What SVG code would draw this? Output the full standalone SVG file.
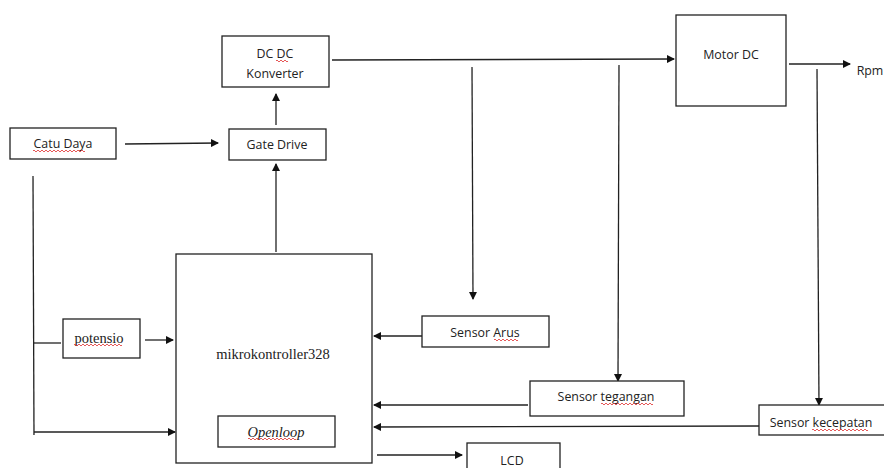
<svg xmlns="http://www.w3.org/2000/svg" width="884" height="468" viewBox="0 0 884 468">
<style>
.box{fill:#fff;stroke:#222;stroke-width:1.3}
.ln{fill:none;stroke:#222;stroke-width:1.3}
.t{font-family:"Open Sans","Liberation Sans",sans-serif;font-size:12.4px;fill:#222;text-anchor:middle}
.s{font-family:"Liberation Serif",serif;font-size:14.5px;fill:#222;text-anchor:middle}
.sq{fill:none;stroke:#e03030;stroke-width:0.8}
</style>
<defs>
<marker id="ah" markerWidth="8" markerHeight="8" refX="7" refY="4" orient="auto" markerUnits="userSpaceOnUse">
<path d="M0,0 L8,4 L0,8 Z" fill="#111"/>
</marker>
</defs>
<rect width="884" height="468" fill="#fff"/>
<g id="connectors">
<path class="ln" d="M125,144 L218,143" marker-end="url(#ah)"/>
<path class="ln" d="M276,125 L276,94" marker-end="url(#ah)"/>
<path class="ln" d="M276,252 L276,164" marker-end="url(#ah)"/>
<path class="ln" d="M332,60 L674,59" marker-end="url(#ah)"/>
<path class="ln" d="M789,64 L850,64" marker-end="url(#ah)"/>
<path class="ln" d="M472,67 L473,299" marker-end="url(#ah)"/>
<path class="ln" d="M619,65 L618,381" marker-end="url(#ah)"/>
<path class="ln" d="M817,69 L819,405" marker-end="url(#ah)"/>
<path class="ln" d="M422,336 L374,336" marker-end="url(#ah)"/>
<path class="ln" d="M528,405 L374,405" marker-end="url(#ah)"/>
<path class="ln" d="M759,426 L374,427" marker-end="url(#ah)"/>
<path class="ln" d="M377,455 L462,455" marker-end="url(#ah)"/>
<path class="ln" d="M145,340 L173,340" marker-end="url(#ah)"/>
<path class="ln" d="M33,176 L34,435"/>
<path class="ln" d="M34,343 L61,343"/>
<path class="ln" d="M34,432 L175,432" marker-end="url(#ah)"/>
</g>
<g id="dcdc">
<rect class="box" x="222" y="36" width="107" height="51"/>
<text class="t" x="275" y="58">DC DC</text>
<text class="t" x="275" y="78">Konverter</text>
<path class="sq" d="M276,61 q1,-2 2,0 q1,2 2,0 q1,-2 2,0 q1,2 2,0 q1,-2 2,0 q1,2 2,0"/>
</g>
<g id="gatedrive">
<rect class="box" x="229" y="129" width="97" height="31"/>
<text class="t" x="277" y="149">Gate Drive</text>
</g>
<g id="catudaya">
<rect class="box" x="10" y="128" width="106" height="31"/>
<text class="t" x="63" y="148">Catu Daya</text>
<path class="sq" d="M33,151 q1,-2 2,0 q1,2 2,0 q1,-2 2,0 q1,2 2,0 q1,-2 2,0 q1,2 2,0 q1,-2 2,0 q1,2 2,0 q1,-2 2,0 q1,2 2,0 q1,-2 2,0 q1,2 2,0 q1,-2 2,0 q1,2 2,0 q1,-2 2,0 q1,2 2,0 q1,-2 2,0 q1,2 2,0 q1,-2 2,0 q1,2 2,0 q1,-2 2,0 q1,2 2,0 q1,-2 2,0 q1,2 2,0 q1,-2 2,0 q1,2 2,0"/>
</g>
<g id="motordc">
<rect class="box" x="676" y="15" width="110" height="91"/>
<text class="t" x="731" y="59">Motor DC</text>
</g>
<g id="rpm">
<text class="t" x="870" y="75">Rpm</text>
</g>
<g id="mikrokontroller">
<rect class="box" x="176" y="254" width="196" height="209"/>
<text class="s" x="273" y="359">mikrokontroller328</text>
</g>
<g id="openloop">
<rect class="box" x="218" y="416" width="117" height="31"/>
<text class="s" x="276" y="437" font-style="italic">Openloop</text>
<path class="sq" d="M248,439 q1,-2 2,0 q1,2 2,0 q1,-2 2,0 q1,2 2,0 q1,-2 2,0 q1,2 2,0 q1,-2 2,0 q1,2 2,0 q1,-2 2,0 q1,2 2,0 q1,-2 2,0 q1,2 2,0 q1,-2 2,0 q1,2 2,0 q1,-2 2,0 q1,2 2,0 q1,-2 2,0 q1,2 2,0 q1,-2 2,0 q1,2 2,0 q1,-2 2,0 q1,2 2,0 q1,-2 2,0 q1,2 2,0"/>
</g>
<g id="potensio">
<rect class="box" x="63" y="319" width="77" height="39"/>
<text class="s" x="99" y="343">potensio</text>
<path class="sq" d="M74,345 q1,-2 2,0 q1,2 2,0 q1,-2 2,0 q1,2 2,0 q1,-2 2,0 q1,2 2,0 q1,-2 2,0 q1,2 2,0 q1,-2 2,0 q1,2 2,0 q1,-2 2,0 q1,2 2,0 q1,-2 2,0 q1,2 2,0 q1,-2 2,0 q1,2 2,0 q1,-2 2,0 q1,2 2,0 q1,-2 2,0 q1,2 2,0 q1,-2 2,0 q1,2 2,0 q1,-2 2,0 q1,2 2,0"/>
</g>
<g id="sensorarus">
<rect class="box" x="422" y="316" width="127" height="31"/>
<text class="t" x="485" y="337">Sensor Arus</text>
<path class="sq" d="M494,340 q1,-2 2,0 q1,2 2,0 q1,-2 2,0 q1,2 2,0 q1,-2 2,0 q1,2 2,0 q1,-2 2,0 q1,2 2,0 q1,-2 2,0 q1,2 2,0 q1,-2 2,0 q1,2 2,0"/>
</g>
<g id="sensortegangan">
<rect class="box" x="530" y="381" width="154" height="35"/>
<text class="t" x="606" y="401">Sensor tegangan</text>
<path class="sq" d="M601,404 q1,-2 2,0 q1,2 2,0 q1,-2 2,0 q1,2 2,0 q1,-2 2,0 q1,2 2,0 q1,-2 2,0 q1,2 2,0 q1,-2 2,0 q1,2 2,0 q1,-2 2,0 q1,2 2,0 q1,-2 2,0 q1,2 2,0 q1,-2 2,0 q1,2 2,0 q1,-2 2,0 q1,2 2,0 q1,-2 2,0 q1,2 2,0 q1,-2 2,0 q1,2 2,0 q1,-2 2,0 q1,2 2,0 q1,-2 2,0 q1,2 2,0"/>
</g>
<g id="sensorkecepatan">
<rect class="box" x="759" y="405" width="128" height="30"/>
<text class="t" x="821" y="427">Sensor kecepatan</text>
<path class="sq" d="M812,430 q1,-2 2,0 q1,2 2,0 q1,-2 2,0 q1,2 2,0 q1,-2 2,0 q1,2 2,0 q1,-2 2,0 q1,2 2,0 q1,-2 2,0 q1,2 2,0 q1,-2 2,0 q1,2 2,0 q1,-2 2,0 q1,2 2,0 q1,-2 2,0 q1,2 2,0 q1,-2 2,0 q1,2 2,0 q1,-2 2,0 q1,2 2,0 q1,-2 2,0 q1,2 2,0 q1,-2 2,0 q1,2 2,0 q1,-2 2,0 q1,2 2,0 q1,-2 2,0 q1,2 2,0"/>
</g>
<g id="lcd">
<rect class="box" x="467" y="443" width="93" height="30"/>
<text class="t" x="512" y="465">LCD</text>
</g>
</svg>
